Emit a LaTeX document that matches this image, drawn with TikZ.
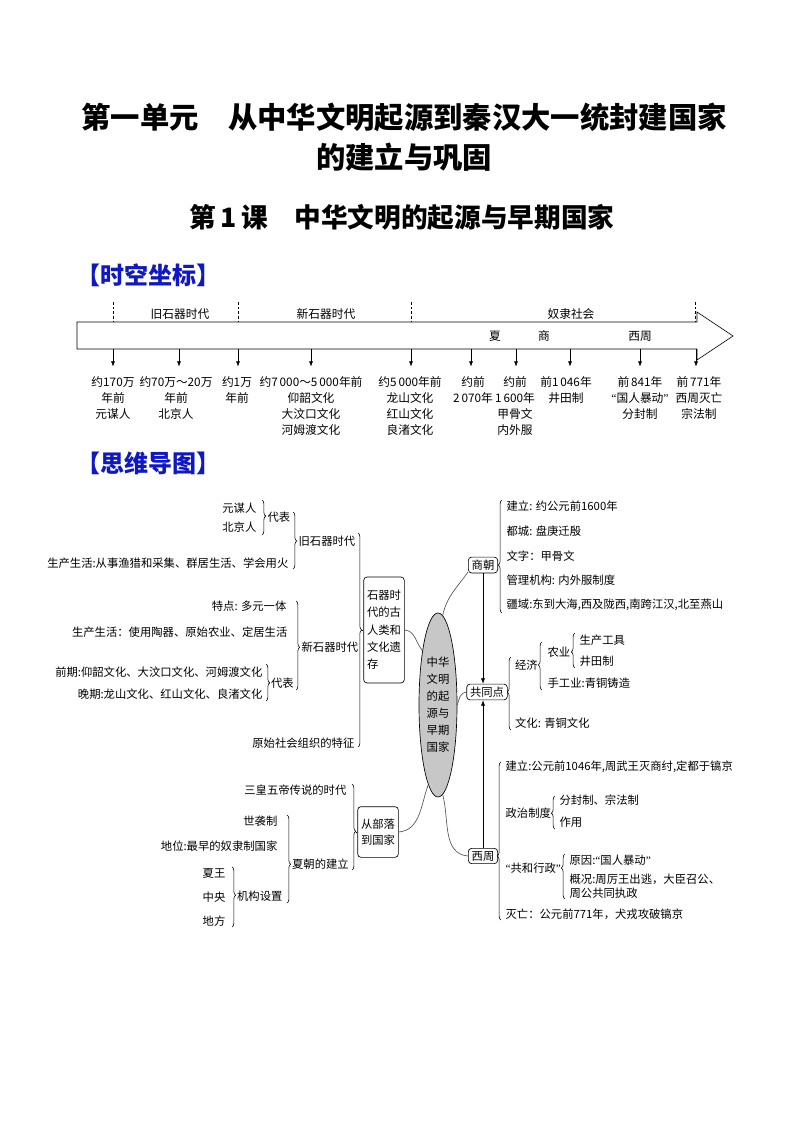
\documentclass[tikz,border=0pt]{standalone}
\usepackage{fontspec}
\setmainfont{Noto Sans CJK SC}
\newfontfamily\qfont{Liberation Serif}
\usetikzlibrary{arrows.meta,positioning,shapes.geometric,decorations.pathreplacing}
\definecolor{headblue}{RGB}{16,24,196}
\definecolor{linkgray}{RGB}{85,85,85}
\newcommand\cnq[1]{{\qfont “}#1{\qfont ”}}

\begin{document}
\begin{tikzpicture}[x=0.75pt,y=0.75pt,>={Latex[length=4pt,width=3pt]},
  every node/.style={inner sep=1pt},
  ttl/.style={font=\fontsize{22}{30}\selectfont\bfseries,align=center},
  hd/.style={font=\fontsize{18}{20}\selectfont\bfseries,text=headblue,anchor=west,inner sep=0pt},
  tlab/.style={font=\fontsize{8.8}{12}\selectfont,align=center,anchor=north,inner sep=0pt},
  era/.style={font=\fontsize{8.8}{12}\selectfont},
  txt/.style={font=\fontsize{8.5}{11}\selectfont},
  ltxt/.style={txt,anchor=east},
  rtxt/.style={txt,anchor=west},
  box/.style={draw,rounded corners=2.5pt,txt,align=left,line width=0.5pt,inner xsep=2.5pt,inner ysep=2pt},
  brc/.style={decorate,decoration={brace,amplitude=2.8pt,aspect=#1},line width=0.45pt},
  brc/.default=0.5,
  lnk/.style={draw=linkgray,line width=0.5pt},
  tkarrow/.style={->,line width=0.45pt,shorten >=7pt}]
  \path[fill=white] (0,0) rectangle (794,-1123);
  \useasboundingbox (0,0) rectangle (794,-1123);

  % titles
  \node[ttl] (ttl1) at (404,-137) {第一单元\quad 从中华文明起源到秦汉大一统封建国家\\的建立与巩固};
  \node[ttl,font=\fontsize{20}{24}\selectfont\bfseries] (ttl2) at (402,-217) {第\,1\,课\quad 中华文明的起源与早期国家};
  \node[hd] (hd1) at (76,-275) {【时空坐标】};
  \node[hd] (hd2) at (76,-463) {【思维导图】};

  % time line
  \draw[line width=0.5pt] (77,-322) -- (697,-322) -- (697,-312) -- (733,-336) -- (697,-360) -- (697,-349) -- (77,-349) -- cycle;
  \draw[dashed,dash pattern=on 2pt off 1.5pt,line width=0.4pt] (113,-302) -- (113,-322);
  \draw[dashed,dash pattern=on 2pt off 1.5pt,line width=0.4pt] (238,-302) -- (238,-322);
  \draw[dashed,dash pattern=on 2pt off 1.5pt,line width=0.4pt] (411,-302) -- (411,-322);
  \draw[dashed,dash pattern=on 2pt off 1.5pt,line width=0.4pt] (695,-302) -- (695,-322);
  \node[era] (e1) at (180,-314) {旧石器时代};
  \node[era] (e2) at (326,-314) {新石器时代};
  \node[era] (e3) at (571,-314) {奴隶社会};
  \node[era] (d1) at (495,-336) {夏};
  \node[era] (d2) at (544,-336) {商};
  \node[era] (d3) at (640,-336) {西周};

  \coordinate (ta1) at (113,-349);
  \coordinate (ta2) at (179,-349);
  \coordinate (ta3) at (238,-349);
  \coordinate (ta4) at (311,-349);
  \coordinate (ta5) at (411,-349);
  \coordinate (ta6) at (471,-349);
  \coordinate (ta7) at (516,-349);
  \coordinate (ta8) at (570,-349);
  \coordinate (ta9) at (640,-349);
  \coordinate (ta10) at (696,-349);
  \node[tlab] (l1) at (113,-376) {约170万\\年前\\元谋人};
  \node[tlab] (l2) at (176,-376) {约70万～20万\\年前\\北京人};
  \node[tlab] (l3) at (237,-376) {约1万\\年前};
  \node[tlab] (l4) at (311,-376) {约7\,000～5\,000年前\\仰韶文化\\大汶口文化\\河姆渡文化};
  \node[tlab] (l5) at (410,-376) {约5\,000年前\\龙山文化\\红山文化\\良渚文化};
  \node[tlab] (l6) at (473,-376) {约前\\2\,070年};
  \node[tlab] (l7) at (515,-376) {约前\\1\,600年\\甲骨文\\内外服};
  \node[tlab] (l8) at (566,-376) {前1\,046年\\井田制};
  \node[tlab] (l9) at (640,-376) {前\,841年\\\cnq{国人暴动}\\分封制};
  \node[tlab] (l10) at (699,-376) {前\,771年\\西周灭亡\\宗法制};
  \draw[tkarrow] (ta1) -- (ta1 |- l1.north);
  \draw[tkarrow] (ta2) -- (ta2 |- l2.north);
  \draw[tkarrow] (ta3) -- (ta3 |- l3.north);
  \draw[tkarrow] (ta4) -- (ta4 |- l4.north);
  \draw[tkarrow] (ta5) -- (ta5 |- l5.north);
  \draw[tkarrow] (ta6) -- (ta6 |- l6.north);
  \draw[tkarrow] (ta7) -- (ta7 |- l7.north);
  \draw[tkarrow] (ta8) -- (ta8 |- l8.north);
  \draw[tkarrow] (ta9) -- (ta9 |- l9.north);
  \draw[tkarrow] (ta10) -- (ta10 |- l10.north);

  % mind map, left upper
  \node[ltxt] (yms) at (258,-508) {元谋人};
  \node[ltxt] (bjr) at (258,-527) {北京人};
  \draw[brc=0.46] (262,-500) -- (262,-535);
  \node[rtxt] (db1) at (266,-517) {代表};
  \node[ltxt] (sc1) at (290,-563) {生产生活:从事渔猎和采集、群居生活、学会用火};
  \draw[brc=0.51] (293,-512) -- (293,-569);
  \node[rtxt] (jsq) at (297,-541) {旧石器时代};
  \node[ltxt] (tedian) at (288,-606) {特点: 多元一体};
  \node[ltxt] (sc2) at (289,-632) {生产生活：使用陶器、原始农业、定居生活};
  \node[ltxt] (qq) at (264,-672) {前期:仰韶文化、大汶口文化、河姆渡文化};
  \node[ltxt] (wq) at (264,-694) {晚期:龙山文化、红山文化、良渚文化};
  \draw[brc=0.51] (266,-664) -- (266,-701);
  \node[rtxt] (db2) at (269.5,-683) {代表};
  \draw[brc=0.52] (296,-601) -- (296,-690);
  \node[rtxt] (xsq) at (300,-647) {新石器时代};
  \node[ltxt] (ysh) at (356,-743) {原始社会组织的特征};
  \draw[brc=0.453] (358,-533) -- (358,-747);
  \coordinate (sqtip) at (361.7,-630);
  \node[box,minimum height=79.5pt,font=\fontsize{8.5}{13}\selectfont] (sq) at (384,-630) {石器时\\代的古\\人类和\\文化遗\\存};
  \draw (sqtip) -- (sq.west);

  % left lower
  \node[ltxt] (shwd) at (348,-790) {三皇五帝传说的时代};
  \node[ltxt] (sxz) at (279,-821) {世袭制};
  \node[ltxt] (diwei) at (279,-846) {地位:最早的奴隶制国家};
  \node[ltxt] (xw) at (227,-873) {夏王};
  \node[ltxt] (zy) at (227,-897) {中央};
  \node[ltxt] (df) at (227,-921) {地方};
  \draw[brc=0.47] (232,-867) -- (232,-927);
  \node[rtxt] (jgsz) at (235.5,-896) {机构设置};
  \draw[brc=0.56] (287,-815) -- (287,-903);
  \node[rtxt] (xcjl) at (290.5,-864) {夏朝的建立};
  \draw[brc=0.55] (352,-784) -- (352,-870);
  \coordinate (cbltip) at (355.7,-832);
  \node[box,minimum height=38pt,font=\fontsize{8.5}{11.5}\selectfont] (cbl) at (378,-832) {从部落\\到国家};
  \draw (cbltip) -- (cbl.west);

  % centre
  \node[ellipse,draw,fill=black!22,line width=0.5pt,minimum width=28.5pt,minimum height=138pt,inner sep=0pt,align=center,font=\fontsize{8.5}{12.75}\selectfont] (core) at (438,-705) {中华\\文明\\的起\\源与\\早期\\国家};
  \node[box] (sc) at (483,-565) {商朝};
  \node[box] (gtd) at (487,-692) {共同点};
  \node[box] (xz) at (483,-856) {西周};
  \draw[->,line width=0.45pt] (sc.south) -- (sc.south |- gtd.north);
  \draw[->,line width=0.45pt] (xz.north) -- (xz.north |- gtd.south);
  \draw[lnk] (core.87) to[out=78,in=235] (sc.205);
  \draw[lnk] (core.east) to[out=75,in=185] (gtd.west);
  \draw[lnk] (core.273) to[out=-75,in=175] (xz.west);
  \draw[lnk] (sq.east) to[out=-5,in=130] (core.106);
  \draw[lnk] (cbl.east) to[out=5,in=250] (core.263);

  % right: shang
  \draw[brc=0.425] (502,-613) -- (502,-500);
  \node[rtxt] (sjl) at (505,-506) {建立: 约公元前1600年};
  \node[rtxt] (sdc) at (505,-531) {都城: 盘庚迁殷};
  \node[rtxt] (swz) at (505,-556) {文字：甲骨文};
  \node[rtxt] (sgl) at (505,-580) {管理机构: 内外服制度};
  \node[rtxt] (sjy) at (505,-605) {疆域:东到大海,西及陇西,南跨江汉,北至燕山};

  % right: common points
  \draw[brc=0.52] (511,-730) -- (511,-657);
  \node[rtxt] (jj) at (513.5,-665) {经济};
  \draw[brc=0.52] (542,-690) -- (542,-642);
  \node[rtxt] (ny) at (546,-652) {农业};
  \draw[brc=0.46] (575,-668) -- (575,-633);
  \node[rtxt] (scgj) at (578,-640) {生产工具};
  \node[rtxt] (jtz) at (578,-661) {井田制};
  \node[rtxt] (sgy) at (546,-683) {手工业:青铜铸造};
  \node[rtxt] (wh) at (513.5,-723) {文化: 青铜文化};

  % right: western zhou
  \draw[brc=0.405] (501,-920) -- (501,-762);
  \node[rtxt] (zjl) at (504,-767) {建立:公元前1046年,周武王灭商纣,定都于镐京};
  \node[rtxt] (zzzd) at (504,-813) {政治制度};
  \draw[brc=0.48] (555,-829) -- (555,-796);
  \node[rtxt] (ffz) at (558,-800) {分封制、宗法制};
  \node[rtxt] (zyong) at (558,-822) {作用};
  \node[rtxt] (ghxz) at (504,-868) {\cnq{共和行政}};
  \draw[brc=0.69] (565,-899) -- (565,-854);
  \node[rtxt] (yy) at (568,-860) {原因:\cnq{国人暴动}};
  \node[rtxt,anchor=north west,align=left,font=\fontsize{8.5}{10.5}\selectfont] (gk) at (568,-872) {概况:周厉王出逃，大臣召公、\\周公共同执政};
  \node[rtxt] (mw) at (504,-914) {灭亡：公元前771年，犬戎攻破镐京};
\end{tikzpicture}
\end{document}
